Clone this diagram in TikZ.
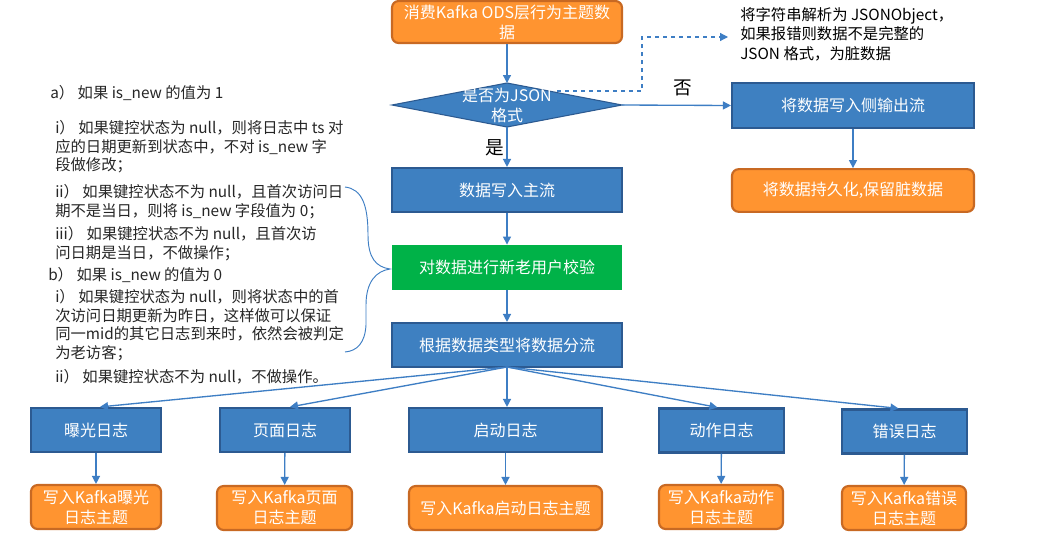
\documentclass[tikz,border=0pt]{standalone}
\usepackage{fontspec}
\setmainfont{Noto Sans CJK SC}
\usetikzlibrary{arrows.meta,calc}
\definecolor{bfill}{RGB}{62,128,193}
\definecolor{bdraw}{RGB}{44,90,145}
\definecolor{ofill}{RGB}{255,148,48}
\definecolor{odraw}{RGB}{200,105,35}
\definecolor{gfill}{RGB}{0,178,72}
\definecolor{lnc}{RGB}{62,126,196}
\begin{document}
\begin{tikzpicture}[x=0.75pt,y=-0.75pt,
  box/.style={inner sep=0pt,align=center,text=white,font=\fontsize{12}{15}\selectfont,minimum height=33pt},
  bluebox/.style={box,draw=bdraw,fill=bfill,line width=1.6pt},
  orbox/.style={box,draw=odraw,fill=ofill,line width=1.6pt,rounded corners=5pt},
  grbox/.style={box,fill=gfill},
  arr/.style={draw=lnc,line width=1pt,-{Triangle[length=6pt,width=6pt]}},
  note/.style={inner sep=0pt,align=left,anchor=west,text=black!85,font=\fontsize{11.5}{14}\selectfont},
  lab/.style={inner sep=0pt,text=black,font=\fontsize{14}{16}\selectfont}]
\useasboundingbox[fill=white] (0,0) rectangle (1042,550);

% top flow
\node[orbox,minimum width=172.5pt,minimum height=31.5pt] (src) at (507,22) {消费Kafka ODS层行为主题数\\据};
\coordinate (diaT) at (507,83);
\coordinate (diaB) at (507,127);
\coordinate (diaL) at (392,105);
\coordinate (diaR) at (622,105);
\fill[bfill,draw=bdraw,line width=0.8pt] (diaT) -- (diaR) -- (diaB) -- (diaL) -- cycle;
\node[box,minimum height=0pt] (dia) at (507,105) {是否为JSON\\格式};
\draw[arr] (src) -- (diaT);

\node[bluebox,minimum width=181.5pt,minimum height=34pt] (side) at (853,105.5) {将数据写入侧输出流};
\node[orbox,minimum width=181.5pt,minimum height=32pt] (dirty) at (853,190.5) {将数据持久化,保留脏数据};
\draw[arr] (diaR) -- (side.west);
\draw[arr] (side) -- (dirty);
\node[lab] (no) at (683,88) {否};

\coordinate (dstart) at (557,91);
\coordinate (dturn) at (642,91);
\coordinate (dup) at (642,37);
\coordinate (dend) at (728,37);
\draw[lnc,line width=0.9pt,dashed,-{Triangle[length=6pt,width=6pt]}] (dstart) -- (dturn) -- (dup) -- (dend);
\node[inner sep=0pt,align=left,anchor=west,text=black,font=\fontsize{11.5}{14.5}\selectfont] (jnote) at (740,34)
  {将字符串解析为 JSONObject，\\如果报错则数据不是完整的\\JSON 格式，为脏数据};

\node[bluebox,minimum width=172.5pt] (main) at (507,190) {数据写入主流};
\draw[arr] (diaB) -- (main);
\node[lab] (yes) at (495,148) {是};
\node[grbox,minimum width=172.5pt,minimum height=34pt] (check) at (507,267.5) {对数据进行新老用户校验};
\draw[arr] (main) -- (check);
\node[bluebox,minimum width=172.5pt] (split) at (507,345) {根据数据类型将数据分流};
\draw[arr] (check) -- (split);

% logs
\node[bluebox,minimum width=97.5pt] (l1) at (96,430) {曝光日志};
\node[bluebox,minimum width=97.5pt] (l2) at (285,430) {页面日志};
\node[bluebox,minimum width=144.75pt] (l3) at (505.5,430) {启动日志};
\node[bluebox,minimum width=93.75pt] (l4) at (721.5,430.5) {动作日志};
\node[bluebox,minimum width=93.75pt] (l5) at (904.5,431.5) {错误日志};

\node[orbox,minimum width=97.5pt] (k1) at (96,507) {写入Kafka曝光\\日志主题};
\node[orbox,minimum width=101.25pt] (k2) at (284.5,508) {写入Kafka页面\\日志主题};
\node[orbox,minimum width=144.75pt] (k3) at (505.5,508) {写入Kafka启动日志主题};
\node[orbox,minimum width=93pt] (k4) at (721,507) {写入Kafka动作\\日志主题};
\node[orbox,minimum width=93pt] (k5) at (904,508) {写入Kafka错误\\日志主题};

\coordinate (fan) at (507,367);
\draw[arr] (fan) -- ($(l1.north)+(4,0)$);
\draw[arr] (fan) -- ($(l2.north)+(5,0)$);
\draw[arr] (fan) -- (l3.north -| fan);
\draw[arr] (fan) -- ($(l4.north)+(-4,0)$);
\draw[arr] (fan) -- ($(l5.north)+(-6,0)$);
\foreach \i in {1,...,5} {\draw[arr] (l\i) -- (k\i);}

% brace
\coordinate (brTop) at (345,187);
\coordinate (brTip) at (390,269);
\coordinate (brBot) at (345,352);
\draw[lnc,line width=0.7pt] (brTop) .. controls (362,189) and (368,205) .. (368,235)
  .. controls (368,258) and (376,267) .. (brTip)
  .. controls (376,271) and (366,282) .. (366,305)
  -- (366,325) .. controls (365,343) and (357,351) .. (brBot);

% left notes
\node[note] (na) at (50,93) {a） 如果 is\_new 的值为 1};
\node[note] (ni) at (55,147) {i） 如果键控状态为 null，则将日志中 ts 对\\应的日期更新到状态中，不对 is\_new 字\\段做修改；};
\node[note] (nii) at (55,202) {ii） 如果键控状态不为 null，且首次访问日\\期不是当日，则将 is\_new 字段值为 0；};
\node[note] (niii) at (55,244) {iii） 如果键控状态不为 null，且首次访\\问日期是当日，不做操作；};
\node[note] (nb) at (48,275) {b） 如果 is\_new 的值为 0};
\node[note] (nbi) at (55,325) {i） 如果键控状态为 null，则将状态中的首\\次访问日期更新为昨日，这样做可以保证\\同一mid的其它日志到来时，依然会被判定\\为老访客；};
\node[note] (nbii) at (55,377) {ii） 如果键控状态不为 null，不做操作。};
\end{tikzpicture}
\end{document}
